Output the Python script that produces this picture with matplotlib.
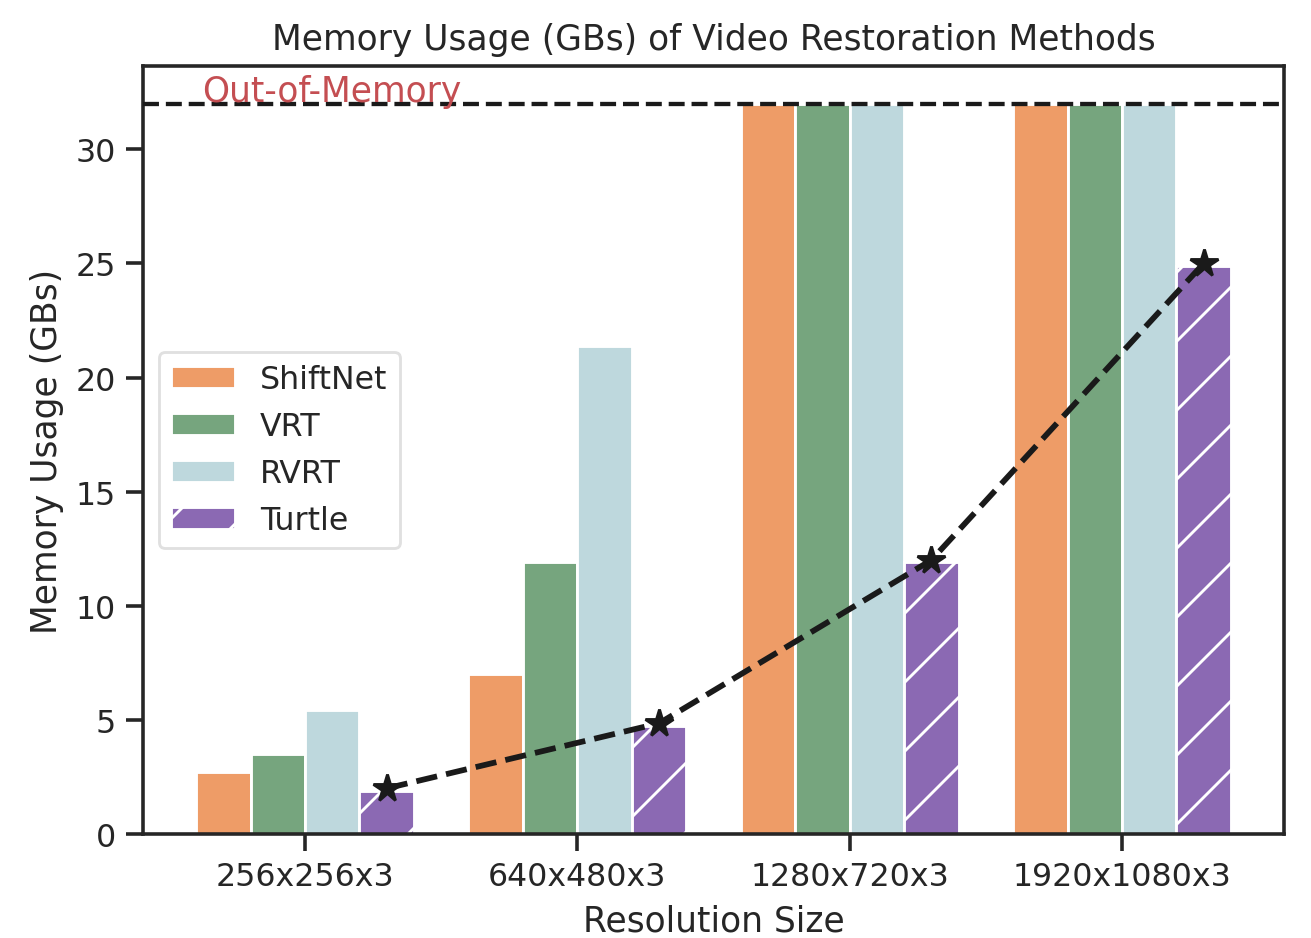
import numpy as np
import matplotlib
matplotlib.use("Agg")
import matplotlib.pyplot as plt
import seaborn as sns

sns.set_style("ticks")
plt.rcParams['font.family'] = ['DejaVu Sans']
plt.rcParams['hatch.linewidth'] = 1.0
plt.rcParams['hatch.color'] = 'white'

resolutions = ["256x256x3", "640x480x3", "1280x720x3", "1920x1080x3"]
methods = ["ShiftNet", "VRT", "RVRT", "Turtle"]
shiftnet = [2.7, 7.0, 32.0, 32.0]
vrt = [3.5, 11.9, 32.0, 32.0]
rvrt = [5.45, 21.4, 32.0, 32.0]
turtle = [1.9, 4.75, 11.9, 24.9]
turtle_trend = [2.0, 4.85, 12.0, 25.0]
oom_limit = 32.0

colors = ["#EE9C67", "#76A57E", "#BED8DD", "#8B69B3"]
hatches = [None, None, None, "/"]

DPI = 207
fig = plt.figure(figsize=(1311 / DPI, 939 / DPI), dpi=DPI)
ax = fig.add_axes([143 / 1311, 104 / 939, (1284 - 143) / 1311, (835 - 67) / 939])

x = np.arange(len(resolutions))
width = 0.2
series = [shiftnet, vrt, rvrt, turtle]
for i, (name, vals) in enumerate(zip(methods, series)):
    ax.bar(x + (i - 1.5) * width, vals, width, label=name, color=colors[i],
           edgecolor='white', linewidth=1.0, hatch=hatches[i])

tx = x + 1.5 * width
ax.plot(tx, turtle_trend, linestyle='--', marker='*', color='#1a1a1a',
        linewidth=2.0, markersize=10, zorder=5)

ax.axhline(oom_limit, color='#1a1a1a', linestyle='--', linewidth=1.5, zorder=3)
ax.text(-0.378, oom_limit + 0.12, "Out-of-Memory", color='#C44E52', fontsize=12,
        ha='left', va='baseline')

ax.set_xlim(-0.595, 3.595)
ax.set_ylim(0, 33.65)
ax.set_xticks(x)
ax.set_xticklabels(resolutions, fontsize=11)
ax.set_yticks([0, 5, 10, 15, 20, 25, 30])
ax.tick_params(axis='y', labelsize=11)
ax.tick_params(width=1.25, length=6, color='#262626')
for s in ax.spines.values():
    s.set_linewidth(1.25)
    s.set_color('#262626')
ax.set_xlabel("Resolution Size", fontsize=12)
ax.set_ylabel("Memory Usage (GBs)", fontsize=12)
ax.set_title("Memory Usage (GBs) of Video Restoration Methods", fontsize=12)

leg = ax.legend(loc='center left', fontsize=11)
leg.get_frame().set_linewidth(1.0)
leg.get_frame().set_edgecolor('#d9d9d9')

fig.savefig("out.png", dpi=DPI)
